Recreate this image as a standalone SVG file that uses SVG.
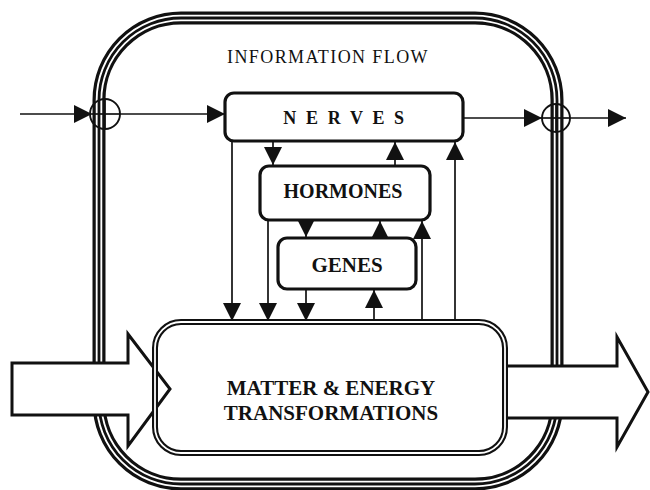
<svg xmlns="http://www.w3.org/2000/svg" width="650" height="490" viewBox="0 0 650 490">
  <defs>
    <marker id="head" markerWidth="18" markerHeight="18" viewBox="0 0 18 18" refX="18" refY="9" orient="auto" markerUnits="userSpaceOnUse">
      <path d="M0,0 L18,9 L0,18 Z" fill="#111"/>
    </marker>
    <style>
      .box { fill: #fff; stroke: #111; stroke-width: 3.2; }
      .flow { fill: none; stroke: #111; stroke-width: 1.7; }
      .flow-arrow { fill: none; stroke: #111; stroke-width: 1.7; marker-end: url(#head); }
      .label { font-family: "Liberation Serif", "Times New Roman", serif; font-weight: bold; fill: #111; text-anchor: middle; }
      .frame-outer { fill: none; stroke: #111; stroke-width: 13; }
      .frame-gap { fill: none; stroke: #fff; stroke-width: 6.5; }
      .frame-mid { fill: none; stroke: #111; stroke-width: 2.8; }
      .block { fill: #fff; stroke: #111; stroke-width: 3; stroke-linejoin: miter; }
    </style>
  </defs>

  <rect width="650" height="490" fill="#fff"/>

  <!-- organism boundary: triple line -->
  <g id="boundary">
    <rect class="frame-outer" x="99" y="18" width="458" height="466" rx="82"/>
    <rect class="frame-gap" x="99" y="18" width="458" height="466" rx="82"/>
    <rect class="frame-mid" x="99" y="18" width="458" height="466" rx="82"/>
  </g>

  <text id="title" x="328" y="63" font-family="'Liberation Serif', 'Times New Roman', serif" font-size="18" letter-spacing="1.4" text-anchor="middle" fill="#111">INFORMATION FLOW</text>

  <!-- matter box background -->
  <rect x="155" y="322" width="350" height="131" rx="26" fill="#fff"/>

  <!-- block arrows for matter and energy in/out -->
  <g id="matter-in">
    <path class="block" d="M12,363 L128,363 L128,334 L170,389 L128,446 L128,415 L12,415 Z"/>
  </g>
  <g id="matter-out">
    <path class="block" d="M505,366 L617,366 L617,337 L648,392 L617,447 L617,418 L505,418 Z"/>
  </g>

  <g id="matter">
    <rect x="155" y="322" width="350" height="131" rx="26" fill="none" stroke="#111" stroke-width="6"/>
    <rect x="155" y="322" width="350" height="131" rx="26" fill="none" stroke="#fff" stroke-width="1.8"/>
    <text class="label" x="331" y="395" font-size="21">MATTER &amp; ENERGY</text>
    <text class="label" x="331" y="420" font-size="21">TRANSFORMATIONS</text>
  </g>

  <g id="nerves">
    <rect class="box" x="225" y="93" width="238" height="48" rx="9"/>
    <text class="label" x="345" y="124" font-size="18" letter-spacing="2.6">N E R V E S</text>
  </g>

  <g id="hormones">
    <rect class="box" x="260" y="166" width="170" height="54" rx="9"/>
    <text class="label" x="343" y="198" font-size="20">HORMONES</text>
  </g>

  <g id="genes">
    <rect class="box" x="278" y="238" width="138" height="51" rx="9"/>
    <text class="label" x="347" y="272" font-size="21">GENES</text>
  </g>

  <!-- summing junctions on the boundary -->
  <g id="junction-in">
    <circle cx="105" cy="114" r="15" fill="none" stroke="#111" stroke-width="1.9"/>
    <line x1="105" y1="99" x2="105" y2="129" stroke="#111" stroke-width="1.6"/>
  </g>
  <g id="junction-out">
    <circle cx="556" cy="118" r="14" fill="none" stroke="#111" stroke-width="1.9"/>
    <line x1="556" y1="104" x2="556" y2="132" stroke="#111" stroke-width="1.6"/>
  </g>

  <g id="connectors">
    <!-- signal in / out -->
    <line class="flow-arrow" x1="20" y1="114" x2="92" y2="114"/>
    <line class="flow" x1="92" y1="114" x2="120" y2="114"/>
    <line class="flow-arrow" x1="120" y1="114" x2="225" y2="114"/>
    <line class="flow-arrow" x1="463" y1="118" x2="542" y2="118"/>
    <line class="flow" x1="542" y1="118" x2="570" y2="118"/>
    <line class="flow-arrow" x1="570" y1="118" x2="626" y2="118"/>

    <!-- downward control -->
    <line class="flow-arrow" x1="232" y1="141" x2="232" y2="321"/>
    <line class="flow-arrow" x1="273" y1="141" x2="273" y2="165"/>
    <line class="flow-arrow" x1="268" y1="220" x2="268" y2="321"/>
    <line class="flow-arrow" x1="306" y1="220" x2="306" y2="237"/>
    <line class="flow-arrow" x1="306" y1="289" x2="306" y2="321"/>

    <!-- upward feedback -->
    <line class="flow-arrow" x1="374" y1="321" x2="374" y2="290"/>
    <line class="flow-arrow" x1="380" y1="238" x2="380" y2="221"/>
    <line class="flow-arrow" x1="422" y1="321" x2="422" y2="221"/>
    <line class="flow-arrow" x1="395" y1="166" x2="395" y2="142"/>
    <line class="flow-arrow" x1="455" y1="321" x2="455" y2="142"/>
  </g>
</svg>
